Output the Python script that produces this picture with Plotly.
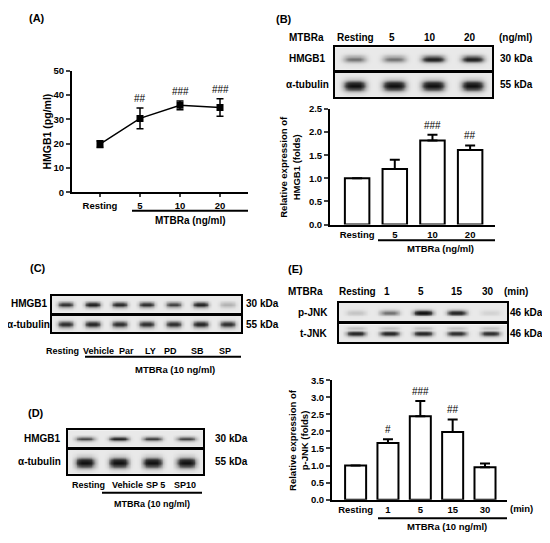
import numpy as np
import plotly.graph_objects as go

# reference is 550x543; the page body keeps an 8px margin, so the figure is
# made 16px smaller and every reference pixel is shifted by OFF
W, H = 550, 543
OFF = 8
FW, FH = W - 2 * OFF, H - 2 * OFF
FONT = "Liberation Sans"

# (A) HMGB1 release (ELISA)
a_groups = ["Resting", "5", "10", "20"]
a_mean = [19.8, 30.4, 35.8, 34.9]
a_err = [1.4, 4.3, 1.8, 3.6]
a_sig = ["", "##", "###", "###"]

# (B) HMGB1 blot + densitometry
b_lanes = ["Resting", "5", "10", "20"]
b_hmgb1 = [0.55, 0.55, 0.92, 0.92]
b_tubulin = [1.0, 1.0, 1.0, 1.0]
b_mean = [1.0, 1.2, 1.82, 1.61]
b_err = [0.0, 0.2, 0.12, 0.1]
b_sig = ["", "", "###", "##"]

# (C) inhibitors
c_lanes = ["Resting", "Vehicle", "Par", "LY", "PD", "SB", "SP"]
c_hmgb1 = [0.8, 0.9, 0.85, 0.82, 0.72, 0.88, 0.3]
c_tubulin = [0.85, 0.9, 0.85, 0.85, 0.85, 0.9, 0.85]

# (D) SP600125 dose
d_lanes = ["Resting", "Vehicle", "SP 5", "SP10"]
d_hmgb1 = [0.7, 0.9, 0.75, 0.72]
d_tubulin = [1.0, 1.0, 1.0, 1.0]

# (E) p-JNK time course
e_lanes = ["Resting", "1", "5", "15", "30"]
e_pjnk = [0.2, 0.55, 1.0, 0.88, 0.12]
e_tjnk = [0.9, 0.9, 0.9, 0.85, 0.85]
e_mean = [1.0, 1.66, 2.44, 1.98, 0.95]
e_err = [0.0, 0.11, 0.45, 0.37, 0.11]
e_sig = ["", "#", "###", "##", ""]


def fx(x):
    return (x - OFF) / FW


def fy(y):
    return 1 - (y - OFF) / FH


def dx(x0, x1):
    return [fx(x0), fx(x1)]


def dy(y0, y1):
    return [fy(y1), fy(y0)]


fig = go.Figure()
ann = []
shapes = []
n_ax = [0]


def text(x, y, s, size=10, bold=True, xanchor="center", angle=0):
    ann.append(dict(x=fx(x), y=fy(y), xref="paper", yref="paper", text=s,
                    showarrow=False, xanchor=xanchor, yanchor="middle", textangle=angle,
                    font=dict(family=FONT, size=size, color="black",
                              weight="bold" if bold else "normal")))


def hline(x0, x1, y):
    shapes.append(dict(type="line", xref="paper", yref="paper", x0=fx(x0), x1=fx(x1),
                       y0=fy(y), y1=fy(y), line=dict(color="black", width=2)))


def new_axes(xd, yd):
    n_ax[0] += 1
    k = n_ax[0]
    s = "" if k == 1 else str(k)
    return s, xd, yd


blot_scale = [[0, "rgb(233,233,233)"], [0.35, "rgb(170,170,170)"],
              [0.7, "rgb(70,70,70)"], [1, "rgb(15,15,15)"]]


def blot(intens, xd, yd, band_h, upper=0.0):
    s, xd, yd = new_axes(xd, yd)
    n = len(intens)
    xs = (np.arange(n * 20) + 0.5) / 20
    ys = (np.arange(20) + 0.5) / 20
    z = np.zeros((len(ys), len(xs)))
    for k, v in enumerate(intens):
        px = np.exp(-np.abs((xs - (k + 0.5)) / 0.3) ** 4)
        py = np.exp(-((ys - 0.48) / band_h) ** 2)
        z += v * np.outer(py, px)
        if upper:
            z += upper * v * np.outer(np.exp(-((ys - 0.8) / 0.08) ** 2), px)
    fig.add_trace(go.Heatmap(x=xs, y=ys, z=np.clip(z, 0, 1), zmin=0, zmax=1,
                             colorscale=blot_scale, showscale=False, zsmooth="best",
                             hoverinfo="skip", xaxis="x" + s, yaxis="y" + s))
    ax = dict(showline=True, mirror=True, linecolor="black", linewidth=2,
              showticklabels=False, ticks="", showgrid=False, zeroline=False)
    fig.layout["xaxis" + s] = dict(ax, domain=dx(*xd), range=[0, n], anchor="y" + s)
    fig.layout["yaxis" + s] = dict(ax, domain=dy(*yd), range=[0, 1], anchor="x" + s)


tickfont = dict(family=FONT, size=9.5, color="black", weight="bold")


def base_axes(s, xd, yd, xr, yr, dtick, labels):
    fig.layout["xaxis" + s] = dict(domain=dx(*xd), range=xr, anchor="y" + s,
                                   tickvals=list(range(len(labels))), ticktext=labels,
                                   showline=True, linecolor="black", linewidth=2,
                                   ticks="", showgrid=False, zeroline=False,
                                   tickfont=tickfont)
    fig.layout["yaxis" + s] = dict(domain=dy(*yd), range=yr, anchor="x" + s, dtick=dtick,
                                   showline=True, linecolor="black", linewidth=2,
                                   ticks="outside", ticklen=4, tickwidth=2,
                                   showgrid=False, zeroline=False, tickfont=tickfont)


def sig_labels(s, vals, errs, sig):
    for i, t in enumerate(sig):
        if t:
            ann.append(dict(x=i, y=vals[i] + errs[i], xref="x" + s, yref="y" + s,
                            text=t, showarrow=False, yanchor="bottom", yshift=2,
                            font=dict(family=FONT, size=10, color="black")))


def bars(vals, errs, sig, labels, xd, yd, xr, yr, dtick, fmt):
    s, xd, yd = new_axes(xd, yd)
    fig.add_trace(go.Bar(x=list(range(len(vals))), y=vals, width=0.65,
                         marker=dict(color="white", line=dict(color="black", width=2)),
                         error_y=dict(type="data", symmetric=False, array=errs,
                                      arrayminus=[0] * len(errs), color="black",
                                      thickness=2, width=5),
                         xaxis="x" + s, yaxis="y" + s))
    base_axes(s, xd, yd, xr, yr, dtick, labels)
    fig.layout["yaxis" + s].tickformat = fmt
    sig_labels(s, vals, errs, sig)


# ---- (A) line chart
s, xd, yd = new_axes((72, 248), (66, 190))
fig.add_trace(go.Scatter(x=list(range(len(a_mean))), y=a_mean, mode="lines+markers",
                         line=dict(color="black", width=1.5),
                         marker=dict(symbol="square", size=7, color="black"),
                         error_y=dict(type="data", array=a_err, color="black",
                                      thickness=1.5, width=3.5),
                         xaxis="x", yaxis="y"))
base_axes(s, xd, yd, [-0.7, 3.7], [0, 50], 10, a_groups)
fig.layout.xaxis.ticks = "outside"
fig.layout.xaxis.ticklen = 3
fig.layout.xaxis.tickwidth = 2
sig_labels(s, a_mean, a_err, a_sig)
text(37, 12, "(A)", 11)
text(47, 128, "HMGB1 (pg/ml)", 10.5, angle=-90)
hline(132, 248, 209)
text(190, 219, "MTBRa (ng/ml)", 10)

# ---- (B)
text(284, 13, "(B)", 11)
for lab, x in zip(["MTBRa"] + b_lanes + ["(ng/ml)"], [306, 355, 392, 430, 470, 515]):
    text(x, 32, lab, 10)
blot(b_hmgb1, (335, 492), (42, 65), 0.16)
blot(b_tubulin, (335, 492), (68, 93), 0.22)
text(307, 53, "HMGB1", 10)
text(307, 80, "α-tubulin", 10)
text(516, 53, "30 kDa", 10)
text(516, 80, "55 kDa", 10)
bars(b_mean, b_err, b_sig, b_lanes, (330, 495), (105, 223), [-0.72, 3.66], [0, 2.5], 0.5, ".1f")
text(290, 164, "Relative expression of<br>HMGB1 (folds)", 9.5, angle=-90)
hline(378, 495, 239)
text(440, 247, "MTBRa (ng/ml)", 9.5)

# ---- (C)
text(38, 267, "(C)", 11)
blot(c_hmgb1, (52, 241), (296, 313), 0.18)
blot(c_tubulin, (52, 241), (316, 333), 0.2)
text(50, 304, "HMGB1", 10, xanchor="right")
text(52, 325, "α-tubulin", 10, xanchor="right")
text(244, 304, "30 kDa", 10, xanchor="left")
text(244, 325, "55 kDa", 10, xanchor="left")
for lab, x in zip(c_lanes, [62, 98, 126, 150, 170, 197, 225]):
    text(x, 352, lab, 9)
hline(85, 241, 358)
text(175, 371, "MTBRa (10 ng/ml)", 9.5)

# ---- (D)
text(36, 415, "(D)", 11)
blot(d_hmgb1, (68, 203), (433, 450), 0.14)
blot(d_tubulin, (68, 203), (453, 478), 0.22)
text(63, 442, "HMGB1", 10, xanchor="right")
text(63, 465, "α-tubulin", 10, xanchor="right")
text(213, 442, "30 kDa", 10, xanchor="left")
text(213, 465, "55 kDa", 10, xanchor="left")
for lab, x in zip(d_lanes, [88, 127, 155, 185]):
    text(x, 489, lab, 9)
hline(102, 202, 497)
text(152, 508, "MTBRa (10 ng/ml)", 9)

# ---- (E)
text(295, 268, "(E)", 11)
for lab, x in zip(["MTBRa"] + e_lanes + ["(min)"], [305, 357, 387, 421, 457, 488, 516]):
    text(x, 291, lab, 10)
blot(e_pjnk, (339, 507), (303, 322), 0.15)
blot(e_tjnk, (339, 507), (325, 343), 0.14, upper=0.25)
text(313, 313, "p-JNK", 10)
text(313, 334, "t-JNK", 10)
text(508, 313, "46 kDa", 10, xanchor="left")
text(508, 334, "46 kDa", 10, xanchor="left")
bars(e_mean, e_err, e_sig, e_lanes, (332, 507), (382, 504), [-0.73, 4.68], [0, 3.5], 0.5, ".1f")
text(299, 443, "Relative expression of<br>p-JNK (folds)", 9.5, angle=-90)
text(508, 513, "(min)", 9.5, xanchor="left")
hline(378, 507, 523)
text(447, 531, "MTBRa (10 ng/ml)", 9.5)

fig.update_layout(width=FW, height=FH, margin=dict(l=0, r=0, t=0, b=0),
                  paper_bgcolor="white", plot_bgcolor="white", showlegend=False,
                  font=dict(family=FONT, size=10, color="black"),
                  annotations=ann, shapes=shapes)
fig.write_html("out.html")
